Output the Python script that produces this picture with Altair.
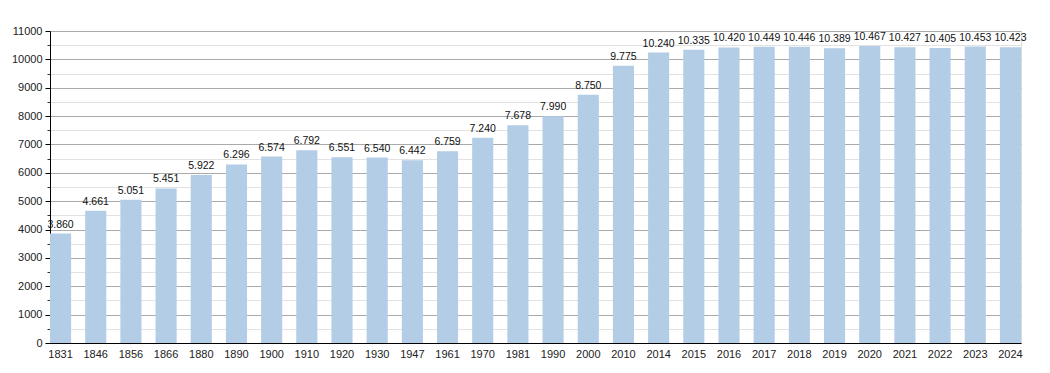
import altair as alt
import pandas as pd

years = ["1831", "1846", "1856", "1866", "1880", "1890", "1900", "1910", "1920", "1930",
         "1947", "1961", "1970", "1981", "1990", "2000", "2010", "2014", "2015", "2016",
         "2017", "2018", "2019", "2020", "2021", "2022", "2023", "2024"]
population = [3860, 4661, 5051, 5451, 5922, 6296, 6574, 6792, 6551, 6540,
              6442, 6759, 7240, 7678, 7990, 8750, 9775, 10240, 10335, 10420,
              10449, 10446, 10389, 10467, 10427, 10405, 10453, 10423]
major_ticks = list(range(0, 11001, 1000))
minor_ticks = list(range(500, 11000, 1000))

df = pd.DataFrame({
    "year": years,
    "pop": population,
    "label": [f"{v:,}".replace(",", ".") for v in population],
})

FONT = "Liberation Sans"

x_scale = alt.Scale(paddingInner=0.4, paddingOuter=0)
x_enc = alt.X("year:N", sort=years, title=None, scale=x_scale,
              axis=alt.Axis(labelAngle=0, ticks=False, domainColor="black",
                            labelFont=FONT, labelFontSize=11, labelColor="#222",
                            labelPadding=5, grid=False))
y_scale = alt.Scale(domain=[0, 11000], nice=False)

minor = alt.Chart(df).mark_bar(opacity=0).encode(
    x=x_enc,
    y=alt.Y("pop:Q", scale=y_scale, title=None,
            axis=alt.Axis(orient="left", values=minor_ticks, labels=False,
                          domain=False, tickSize=3, tickColor="#333",
                          grid=True, gridColor="#e2e2e2", gridWidth=1)),
)

bars = alt.Chart(df).mark_bar(color="#b3cde6").encode(
    x=x_enc,
    y=alt.Y("pop:Q", scale=y_scale, title=None,
            axis=alt.Axis(orient="left", values=major_ticks, format="d",
                          domainColor="black", tickColor="black", tickSize=5,
                          labelFont=FONT, labelFontSize=11, labelColor="#222",
                          labelPadding=3,
                          grid=True, gridColor="#aaaaaa", gridWidth=1)),
)

text = alt.Chart(df).mark_text(baseline="bottom", dy=-4, font=FONT,
                               fontSize=10.5, color="#111").encode(
    x=x_enc,
    y=alt.Y("pop:Q", scale=y_scale, axis=None),
    text="label:N",
)

chart = alt.layer(minor, bars, text).resolve_axis(y="independent").properties(
    width=971, height=312,
    autosize=alt.AutoSizeParams(type="none"),
    padding={"left": 42, "top": 23, "right": 20, "bottom": 30},
).configure_view(stroke=None).configure(background="white")

chart.save("out.html", embed_options={"renderer": "svg", "actions": False})
